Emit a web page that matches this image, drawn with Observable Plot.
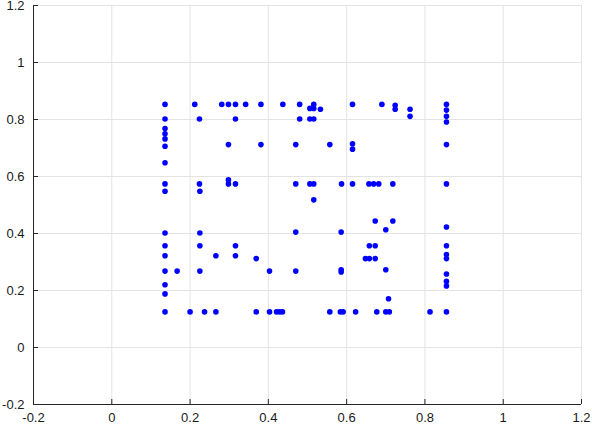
<!DOCTYPE html>
<html>
<head>
<meta charset="utf-8">
<script src="https://cdn.jsdelivr.net/npm/d3@7"></script>
<script src="https://cdn.jsdelivr.net/npm/@observablehq/plot@0.6"></script>
<style>
  html, body { margin: 0; padding: 0; background: #fff; }
  #chart svg { display: block; }
</style>
</head>
<body>
<div id="chart"></div>
<script>
const xs = [
  0.136, 0.212, 0.281, 0.298, 0.316, 0.342, 0.381, 0.437, 0.480, 0.516, 0.615, 0.690, 0.855,
  0.724,
  0.506, 0.516, 0.533, 0.724, 0.762, 0.855,
  0.762, 0.855,
  0.136, 0.224, 0.316, 0.480, 0.506, 0.516,
  0.855,
  0.136, 0.136, 0.136, 0.136,
  0.298, 0.381, 0.470, 0.557, 0.855, 0.615, 0.615,
  0.136,
  0.298,
  0.136, 0.224, 0.298, 0.316, 0.470, 0.506, 0.516, 0.587, 0.615, 0.657, 0.669, 0.682, 0.718, 0.855,
  0.136, 0.225,
  0.516,
  0.673, 0.718,
  0.855,
  0.700,
  0.470, 0.586,
  0.136, 0.225,
  0.136, 0.225, 0.316, 0.658, 0.673, 0.855,
  0.855,
  0.136, 0.266, 0.316,
  0.369, 0.648, 0.658, 0.673, 0.855,
  0.586, 0.700,
  0.136, 0.167, 0.225, 0.403, 0.470,
  0.586,
  0.855,
  0.855, 0.855,
  0.136, 0.136,
  0.707,
  0.136, 0.200, 0.237, 0.266, 0.369, 0.403, 0.421, 0.429, 0.436, 0.557, 0.584, 0.591, 0.623, 0.677, 0.700, 0.709, 0.813, 0.855
];
const ys = [
  0.853, 0.853, 0.853, 0.853, 0.853, 0.853, 0.853, 0.853, 0.853, 0.853, 0.853, 0.853, 0.853,
  0.850,
  0.839, 0.839, 0.836, 0.836, 0.836, 0.833,
  0.811, 0.811,
  0.802, 0.802, 0.802, 0.802, 0.802, 0.802,
  0.791,
  0.768, 0.750, 0.732, 0.706,
  0.712, 0.712, 0.712, 0.712, 0.712, 0.715, 0.696,
  0.648,
  0.588,
  0.574, 0.574, 0.574, 0.574, 0.574, 0.574, 0.574, 0.574, 0.574, 0.574, 0.574, 0.574, 0.574, 0.574,
  0.548, 0.548,
  0.518,
  0.444, 0.444,
  0.423,
  0.413,
  0.405, 0.405,
  0.402, 0.402,
  0.357, 0.357, 0.357, 0.357, 0.357, 0.357,
  0.326,
  0.322, 0.322, 0.322,
  0.312, 0.312, 0.312, 0.312, 0.312,
  0.273, 0.273,
  0.268, 0.268, 0.268, 0.268, 0.268,
  0.265,
  0.258,
  0.232, 0.216,
  0.220, 0.188,
  0.171,
  0.125, 0.125, 0.125, 0.125, 0.125, 0.125, 0.125, 0.125, 0.125, 0.125, 0.125, 0.125, 0.125, 0.125, 0.125, 0.125, 0.125, 0.125
];
const xTicks = [-0.2, 0, 0.2, 0.4, 0.6, 0.8, 1, 1.2];
const yTicks = [-0.2, 0, 0.2, 0.4, 0.6, 0.8, 1, 1.2];

const points = xs.map((x, i) => ({x, y: ys[i]}));
const fmt = d => String(Math.round(d * 10) / 10);
const axisColor = "#262626";

const chart = Plot.plot({
  width: 592,
  height: 425,
  marginLeft: 33,
  marginRight: 11,
  marginTop: 5,
  marginBottom: 21,
  style: {fontFamily: "'Liberation Sans', Arial, sans-serif", fontSize: "13px", color: "#1a1a1a", background: "#fff"},
  x: {domain: [-0.2, 1.2], ticks: xTicks, tickFormat: fmt},
  y: {domain: [-0.2, 1.2], ticks: yTicks, tickFormat: fmt},
  marks: [
    Plot.gridX(xTicks, {stroke: "#e3e3e3", strokeOpacity: 1}),
    Plot.gridY(yTicks, {stroke: "#e3e3e3", strokeOpacity: 1}),
    Plot.axisX(xTicks, {tickSize: 0, tickPadding: 8, tickFormat: fmt, label: null, fill: "#1a1a1a"}),
    Plot.axisY(yTicks, {tickSize: 0, tickPadding: 9, tickFormat: fmt, label: null, fill: "#1a1a1a"}),
    Plot.axisX(xTicks, {tickSize: -5, text: null, label: null, stroke: axisColor}),
    Plot.axisY(yTicks, {tickSize: -5, text: null, label: null, stroke: axisColor}),
    Plot.ruleX([-0.2], {stroke: axisColor}),
    Plot.ruleY([-0.2], {stroke: axisColor}),
    Plot.dot(points, {x: "x", y: "y", r: 2.8, fill: "#0000ff", stroke: "none"})
  ]
});
document.getElementById("chart").appendChild(chart);
</script>
</body>
</html>
